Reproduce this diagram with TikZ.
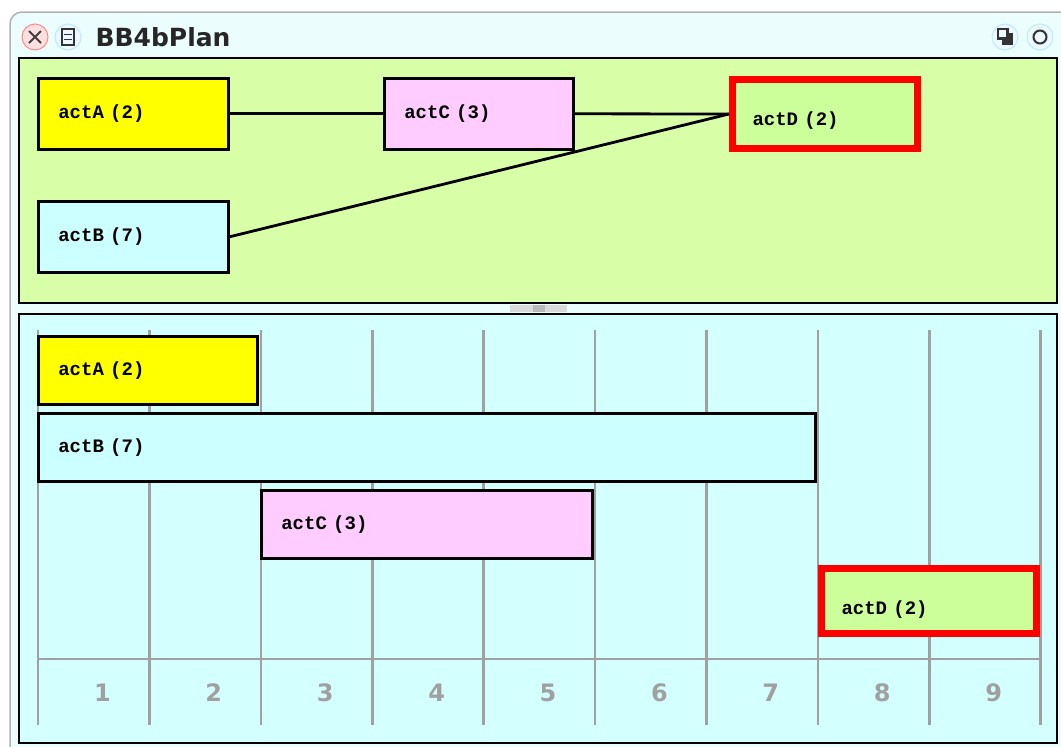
\documentclass[tikz,border=0pt]{standalone}
\usepackage{fontspec}
\usepackage{tikz}
\usetikzlibrary{positioning}
\newfontfamily\actfont{Liberation Mono}
\newfontfamily\uifont{DejaVu Sans}
\definecolor{planyellow}{RGB}{255,255,0}
\definecolor{planpink}{RGB}{255,204,255}
\definecolor{plancyan}{RGB}{204,255,255}
\definecolor{plangreen}{RGB}{204,255,153}
\definecolor{toppanel}{RGB}{216,255,168}
\definecolor{lowpanel}{RGB}{212,255,255}
\definecolor{winback}{RGB}{236,253,253}
\definecolor{gridgray}{RGB}{160,160,160}
\tikzset{
  actbox/.style={draw=black, line width=2.6pt, anchor=north west, inner xsep=20pt, minimum height=71pt, align=left, font=\actfont\bfseries\fontsize{19}{21}\selectfont},
  critbox/.style={actbox, draw=red, line width=7pt, fill=plangreen, text height=27pt},
  link/.style={line width=2.8pt},
  gridline/.style={draw=gridgray, line width=2.6pt},
  daylabel/.style={text=gridgray, font=\uifont\bfseries\fontsize{24}{26}\selectfont},
  panel/.style={draw=black, line width=2.6pt},
  winbutton/.style={circle, minimum size=26pt, inner sep=0pt, line width=1pt}
}
\begin{document}
\begin{tikzpicture}[x=1pt, y=-1pt]
  \useasboundingbox (0,0) rectangle (1061,747);
  % window frame and title bar
  \fill[white] (0,0) rectangle (1061,747);
  \draw[gray!60, fill=winback, line width=1.5pt, rounded corners=12pt] (10,12) rectangle (1075,760);
  \node[winbutton, draw=red!45, fill=red!12] (close) at (35,37) {};
  \draw[line width=2pt, black!75] (close.center) ++(-6,-6) -- ++(12,12) (close.center) ++(-6,6) -- ++(12,-12);
  \node[winbutton, draw=cyan!25, fill=cyan!8] (menu) at (68,37) {};
  \draw[line width=1.6pt, black!80] (menu.center) ++(-6,-8) rectangle ++(12,16);
  \draw[line width=1.4pt, black!80] (menu.center) ++(-4,-2.5) -- ++(8,0) (menu.center) ++(-4,2.5) -- ++(8,0);
  \node[anchor=west, text=black!85, font=\uifont\bfseries\fontsize{25}{27}\selectfont] (title) at (92,37) {BB4bPlan};
  \node[winbutton, draw=cyan!25, fill=cyan!8] (collapse) at (1005,37) {};
  \draw[line width=1.6pt, black!80] (collapse.center) ++(-7,-8) rectangle ++(10,10);
  \draw[line width=1.6pt, black!80, fill=black!80] (collapse.center) ++(-2,-3) rectangle ++(9,10);
  \draw[line width=1.6pt, black!80, fill=winback] (collapse.center) ++(-7,-8) rectangle ++(9,9);
  \node[winbutton, draw=cyan!25, fill=cyan!8] (expand) at (1040,37) {};
  \draw[line width=2pt, black!80] (expand.center) circle (6.5pt);

  % dependency panel
  \draw[panel, fill=toppanel] (19,58) rectangle (1057,303);
  \fill[gray!30] (510,305) rectangle (567,312);
  \fill[gray!55] (533,305) rectangle (545,312);
  \node[actbox, fill=planyellow, text width=150pt] (depA) at (37,77) {actA (2)};
  \node[actbox, fill=planpink, text width=149pt] (depC) at (383,77) {actC (3)};
  \node[critbox, minimum height=69pt, text width=145pt] (depD) at (729,76) {actD (2)};
  \node[actbox, fill=plancyan, text width=150pt] (depB) at (37,200) {actB (7)};
  \draw[link] (depA.east) -- (depC.west);
  \draw[link] (depC.east) -- (depD.west);
  \draw[link] (depB.east) -- (depD.west);

  % schedule panel
  \draw[panel, fill=lowpanel] (19,314) rectangle (1057,743);
  \foreach \d in {0,...,9}
    \draw[gridline] ({38+111.4*\d},330) -- ({38+111.4*\d},725);
  \draw[gridline] (38,659) -- (1041,659);
  \foreach \d in {1,...,9}
    \node[daylabel] (day\d) at ({38+111.4*\d-47},693) {\d};
  \node[actbox, fill=planyellow, minimum height=68pt, text width=179pt] (barA) at (37,335) {actA (2)};
  \node[actbox, fill=plancyan, minimum height=68pt, text width=737pt] (barB) at (37,412) {actB (7)};
  \node[actbox, fill=planpink, minimum height=68pt, text width=291pt] (barC) at (260,489) {actC (3)};
  \node[critbox, minimum height=65pt, text width=175pt, text height=31pt] (barD) at (818,565) {actD (2)};
\end{tikzpicture}
\end{document}
